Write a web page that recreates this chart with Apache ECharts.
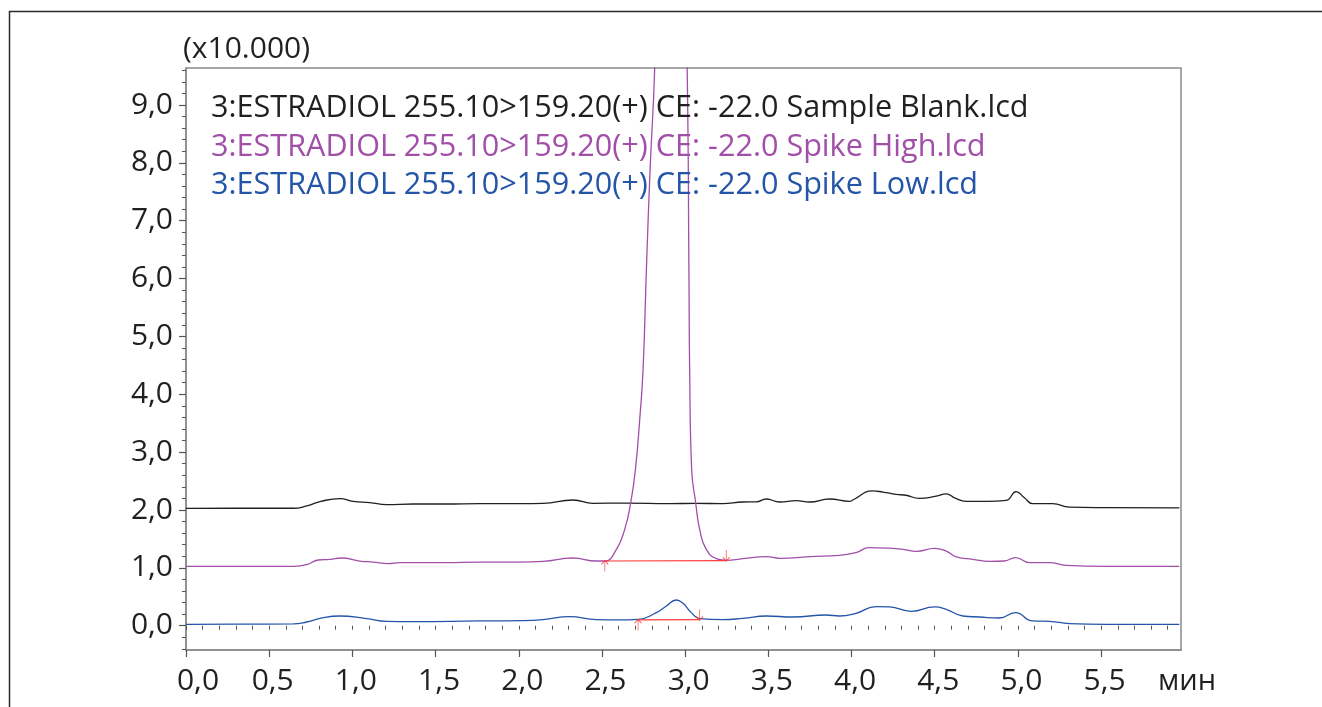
<!DOCTYPE html>
<html>
<head>
<meta charset="utf-8">
<title>ESTRADIOL 255.10>159.20</title>
<script src="https://cdn.jsdelivr.net/npm/echarts@6/dist/echarts.min.js"></script>
<style>
  html, body { margin: 0; padding: 0; background: #fff; }
  #chart { width: 1322px; height: 707px; }
</style>
</head>
<body>
<div id="chart"></div>
<script>
// трассы хроматограмм (значения уже со смещением, как на картинке), ось Y в x10.000
const blankTime = [0.00, 0.30, 0.645, 0.725, 0.805, 0.925, 1.005, 1.105, 1.205, 1.363, 1.563, 1.766, 2.006, 2.146, 2.326, 2.446, 2.646, 2.907, 3.065, 3.225, 3.347, 3.427, 3.488, 3.568, 3.668, 3.748, 3.868, 3.988, 4.008, 4.126, 4.188, 4.268, 4.328, 4.408, 4.509, 4.569, 4.619, 4.69, 4.81, 4.93, 4.989, 5.039, 5.089, 5.209, 5.309, 5.53, 5.97]
const blankSignal = [2.029, 2.03, 2.03, 2.07, 2.145, 2.197, 2.15, 2.127, 2.093, 2.104, 2.104, 2.11, 2.11, 2.115, 2.173, 2.115, 2.12, 2.11, 2.115, 2.11, 2.138, 2.14, 2.19, 2.138, 2.162, 2.138, 2.19, 2.15, 2.173, 2.33, 2.31, 2.27, 2.255, 2.20, 2.24, 2.28, 2.21, 2.15, 2.15, 2.167, 2.318, 2.21, 2.11, 2.11, 2.05, 2.04, 2.035]

const highTime = [0.00, 0.30, 0.645, 0.725, 0.795, 0.865, 0.935, 1.045, 1.125, 1.215, 1.285, 1.565, 1.766, 2.006, 2.146, 2.326, 2.466, 2.517, 2.587, 2.637, 2.673, 2.701, 2.727, 2.747, 2.767, 2.789, 2.817, 2.90, 2.97, 3.012, 3.023, 3.027, 3.039, 3.063, 3.087, 3.127, 3.195, 3.247, 3.347, 3.488, 3.568, 3.748, 3.928, 4.026, 4.106, 4.228, 4.308, 4.389, 4.499, 4.569, 4.629, 4.729, 4.829, 4.917, 4.985, 5.069, 5.189, 5.289, 5.53, 5.97]
const highSignal = [1.027, 1.027, 1.027, 1.055, 1.136, 1.147, 1.17, 1.118, 1.10, 1.073, 1.09, 1.09, 1.10, 1.10, 1.113, 1.17, 1.118, 1.118, 1.32, 1.67, 2.13, 2.70, 3.57, 4.43, 6.16, 7.87, 9.65, 18.5, 16.0, 9.65, 5.99, 4.43, 2.70, 2.13, 1.67, 1.32, 1.15, 1.13, 1.16, 1.194, 1.165, 1.194, 1.217, 1.263, 1.35, 1.34, 1.32, 1.286, 1.338, 1.29, 1.19, 1.148, 1.113, 1.118, 1.177, 1.09, 1.09, 1.044, 1.027, 1.027]

const lowTime = [0.00, 0.30, 0.645, 0.725, 0.825, 0.925, 1.085, 1.205, 1.363, 1.766, 2.006, 2.146, 2.306, 2.466, 2.607, 2.717, 2.827, 2.887, 2.947, 2.987, 3.037, 3.087, 3.225, 3.347, 3.488, 3.648, 3.848, 3.928, 4.026, 4.148, 4.228, 4.359, 4.499, 4.569, 4.669, 4.769, 4.889, 4.985, 5.089, 5.189, 5.309, 5.53, 5.97]
const lowSignal = [0.024, 0.026, 0.03, 0.064, 0.14, 0.168, 0.122, 0.076, 0.07, 0.082, 0.087, 0.105, 0.157, 0.105, 0.10, 0.11, 0.226, 0.34, 0.444, 0.387, 0.226, 0.122, 0.105, 0.128, 0.168, 0.15, 0.185, 0.168, 0.214, 0.33, 0.325, 0.249, 0.325, 0.283, 0.168, 0.15, 0.133, 0.226, 0.082, 0.076, 0.036, 0.024, 0.024]

// базовые линии интегрирования пиков (начало, конец)
const highBaseTime = [2.517, 3.247]
const highBaseLevel = [1.118, 1.125]
const lowBaseTime = [2.717, 3.087]
const lowBaseLevel = [0.10, 0.105]

const seriesNames = [
  '3:ESTRADIOL 255.10>159.20(+) CE: -22.0 Sample Blank.lcd',
  '3:ESTRADIOL 255.10>159.20(+) CE: -22.0 Spike High.lcd',
  '3:ESTRADIOL 255.10>159.20(+) CE: -22.0 Spike Low.lcd'
]
const seriesColors = ['#231f20', '#a24fa9', '#2455a8']

const xMajorTicks = [0, 0.5, 1, 1.5, 2, 2.5, 3, 3.5, 4, 4.5, 5, 5.5]
const yMajorTicks = [0, 1, 2, 3, 4, 5, 6, 7, 8, 9]

const xMinorTicks = []
for (let i = 0; i <= 59; i++) xMinorTicks.push(+(i * 0.1).toFixed(1))
const yMinorTicks = []
for (let i = -2; i <= 48; i++) yMinorTicks.push(+(i * 0.2).toFixed(1))

const zip = (xs, ys) => xs.map((x, i) => [x, ys[i]])
const commaFmt = (v) => v.toFixed(1).replace('.', ',')

const FONT = '"Open Sans", "Noto Sans", sans-serif'
const FS = 30
const TXT = '#231f20'
const RED = '#ff3b3b'
const arrowUp = 'path://M5,0 L5,14 M1,5 L5,0 L9,5'
const arrowDown = 'path://M5,14 L5,0 M1,9 L5,14 L9,9'

const chart = echarts.init(document.getElementById('chart'), null, {renderer: 'canvas'})

const traceSeries = [
  {name: seriesNames[0], data: zip(blankTime, blankSignal), color: seriesColors[0]},
  {name: seriesNames[1], data: zip(highTime, highSignal), color: seriesColors[1]},
  {name: seriesNames[2], data: zip(lowTime, lowSignal), color: seriesColors[2]}
].map(s => ({
  name: s.name,
  type: 'line',
  data: s.data,
  showSymbol: false,
  smooth: 0.5,
  clip: true,
  z: 3,
  lineStyle: {color: s.color, width: 1.3},
  itemStyle: {color: s.color}
}))

const option = {
  animation: false,
  backgroundColor: '#fff',
  textStyle: {fontFamily: FONT},
  graphic: [
    {
      type: 'rect',
      shape: {x: 9.5, y: 11.5, width: 1400, height: 800},
      style: {fill: 'none', stroke: '#2b2b2b', lineWidth: 1.5},
      silent: true
    }
  ],
  grid: {
    left: 186, top: 68, right: 141, bottom: 57,
    show: true, borderColor: '#8a8a8a', borderWidth: 1.5, backgroundColor: 'transparent'
  },
  legend: {
    orient: 'vertical',
    left: 201,
    top: 88,
    icon: 'none',
    itemWidth: 0,
    itemHeight: 30,
    itemGap: 7.5,
    selectedMode: false,
    data: seriesNames.map((n, i) => ({name: n, textStyle: {color: seriesColors[i]}})),
    textStyle: {fontSize: 30.6, fontFamily: FONT, lineHeight: 30}
  },
  xAxis: [
    {
      type: 'value',
      min: 0,
      max: 5.98,
      name: 'мин',
      nameLocation: 'end',
      nameGap: 6,
      nameTextStyle: {fontSize: 29, color: TXT, align: 'center', verticalAlign: 'top', padding: [17, 0, 0, 0], fontFamily: FONT},
      axisLine: {show: true, onZero: false, lineStyle: {color: '#8a8a8a', width: 1.5}},
      axisTick: {show: true, customValues: xMajorTicks, length: 7, lineStyle: {color: '#555', width: 1.2}},
      axisLabel: {
        customValues: xMajorTicks,
        margin: 16,
        fontSize: FS,
        color: TXT,
        formatter: (v) => v === 0 ? '{first|' + commaFmt(v) + '}' : '{n|' + commaFmt(v) + '}',
        rich: {
          first: {fontSize: FS, color: TXT, padding: [0, 0, 0, 24], fontFamily: FONT},
          n: {fontSize: FS, color: TXT, padding: [0, 0, 0, 7], fontFamily: FONT}
        }
      },
      splitLine: {show: false}
    },
    {
      type: 'value',
      min: 0,
      max: 5.98,
      position: 'bottom',
      offset: 0,
      axisLine: {show: false},
      axisTick: {show: true, customValues: xMinorTicks, length: 4, lineStyle: {color: '#555', width: 1}},
      axisLabel: {show: false},
      splitLine: {show: false}
    }
  ],
  yAxis: [
    {
      type: 'value',
      min: -0.42,
      max: 9.64,
      name: '(x10.000)',
      nameLocation: 'end',
      nameGap: 4,
      nameTextStyle: {fontSize: FS, color: TXT, align: 'left', padding: [0, 0, 0, -3], fontFamily: FONT},
      axisLine: {show: true, onZero: false, lineStyle: {color: '#8a8a8a', width: 1.5}},
      axisTick: {show: true, customValues: yMajorTicks, length: 7, lineStyle: {color: '#555', width: 1.2}},
      axisLabel: {customValues: yMajorTicks, margin: 13, fontSize: FS, color: TXT, formatter: commaFmt},
      splitLine: {show: false}
    },
    {
      type: 'value',
      min: -0.42,
      max: 9.64,
      position: 'left',
      offset: 0,
      axisLine: {show: false},
      axisTick: {show: true, customValues: yMinorTicks, length: 4, lineStyle: {color: '#555', width: 1}},
      axisLabel: {show: false},
      splitLine: {show: false}
    }
  ],
  series: [
    ...traceSeries,
    {
      name: 'high-baseline',
      type: 'line',
      data: zip(highBaseTime, highBaseLevel),
      showSymbol: false,
      z: 4,
      lineStyle: {color: RED, width: 1.2}
    },
    {
      name: 'low-baseline',
      type: 'line',
      data: zip(lowBaseTime, lowBaseLevel),
      showSymbol: false,
      z: 4,
      lineStyle: {color: RED, width: 1.2}
    },
    {
      name: 'start-marks',
      type: 'scatter',
      data: [[highBaseTime[0], highBaseLevel[0]], [lowBaseTime[0], lowBaseLevel[0]]],
      symbol: arrowUp,
      symbolSize: [7, 11],
      symbolOffset: [0, 5],
      z: 5,
      itemStyle: {color: 'rgba(0,0,0,0)', borderColor: RED, borderWidth: 1}
    },
    {
      name: 'end-marks',
      type: 'scatter',
      data: [[highBaseTime[1], highBaseLevel[1]], [lowBaseTime[1], lowBaseLevel[1]]],
      symbol: arrowDown,
      symbolSize: [7, 11],
      symbolOffset: [0, -5],
      z: 5,
      itemStyle: {color: 'rgba(0,0,0,0)', borderColor: RED, borderWidth: 1}
    }
  ]
}

chart.setOption(option)
window.addEventListener('resize', () => chart.resize())
</script>
</body>
</html>
